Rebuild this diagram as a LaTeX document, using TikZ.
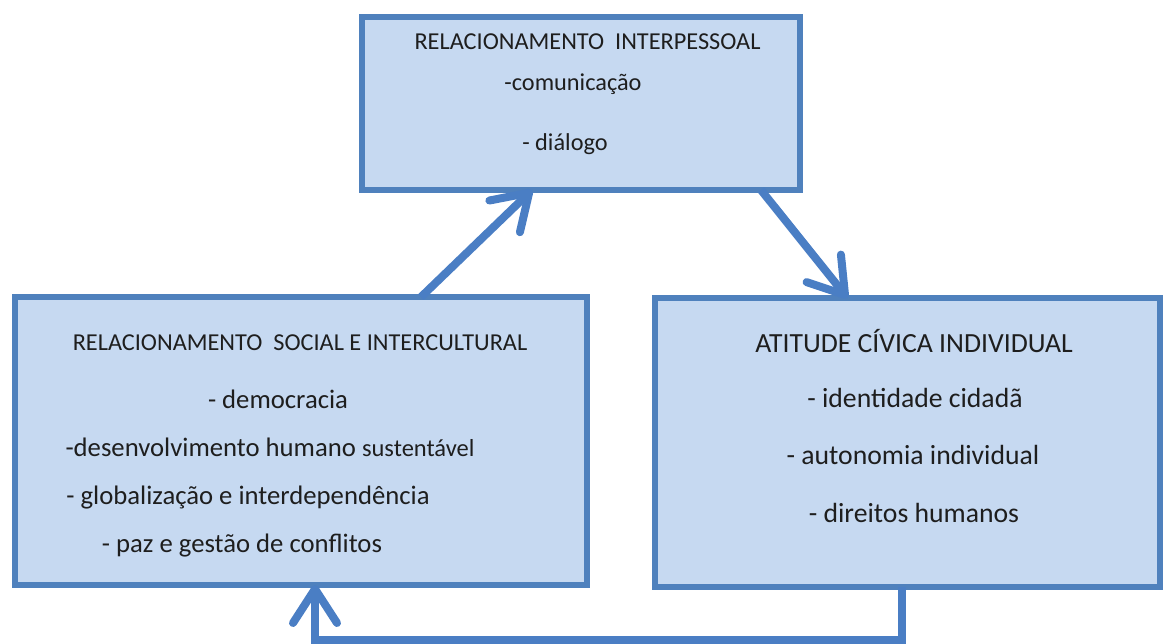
\documentclass[tikz,border=0pt]{standalone}
\usepackage{fontspec}
\setmainfont{Carlito}
\usetikzlibrary{arrows.meta, calc}
\definecolor{boxfill}{RGB}{198,217,241}
\definecolor{boxline}{RGB}{79,129,189}
\definecolor{flowline}{RGB}{74,126,196}
\definecolor{ink}{RGB}{30,30,30}

\begin{document}
\begin{tikzpicture}[x=1pt, y=-1pt,
    panel/.style={draw=boxline, fill=boxfill, line width=6pt, inner sep=0pt, outer sep=0pt},
    flow/.style={draw=flowline, line width=8pt, -{Straight Barb[length=34pt,width=44pt,round]}},
    txt/.style={anchor=base, inner sep=0pt, text=ink},
    small/.style={txt, font=\fontsize{24.3}{29}\selectfont},
    mid/.style={txt, font=\fontsize{26.7}{32}\selectfont},
    large/.style={txt, font=\fontsize{27.7}{33}\selectfont}]
  \useasboundingbox (0,0) rectangle (1164,644);
  % ---- boxes ----
  \node[panel, minimum width=438pt, minimum height=173pt] (inter)  at (581,103.5) {};
  \node[panel, minimum width=572pt, minimum height=288pt] (social) at (301,441)   {};
  \node[panel, minimum width=505pt, minimum height=289pt] (civic)  at (907.5,442.5) {};
  % ---- top box: interpersonal ----
  \node[small] (inter-t) at (587.5,50) {RELACIONAMENTO\ \ INTERPESSOAL};
  \node[small] (inter-1) at (573,91)   {-comunicação};
  \node[small] (inter-2) at (565,151)  {- diálogo};
  % ---- left box: social and intercultural ----
  \node[small] (social-t) at (300,350) {RELACIONAMENTO\ \ SOCIAL E INTERCULTURAL};
  \node[mid] (social-1) at (278,408) {- democracia};
  \node[mid] (social-2) at (270,456) {-desenvolvimento humano {\fontsize{24.5}{30}\selectfont sustentável}};
  \node[mid] (social-3) at (248,504) {- globalização e interdependência};
  \node[mid] (social-4) at (242,552) {- paz e gestão de conflitos};
  % ---- right box: civic attitude ----
  \node[large] (civic-t) at (914,352) {ATITUDE CÍVICA INDIVIDUAL};
  \node[large] (civic-1) at (915,407) {- identidade cidadã};
  \node[large] (civic-2) at (913,464) {- autonomia individual};
  \node[large] (civic-3) at (914,522) {- direitos humanos};
  % ---- connectors ----
  \draw[flow] ([xshift=120pt]social.north) -- ([xshift=-49pt]inter.south);
  \draw[flow] ([xshift=180pt]inter.south) -- ([xshift=-60pt]civic.north);
  \draw[flow] ([xshift=-5.5pt]civic.south) -- ++(0,53) -| ([xshift=14pt]social.south);
\end{tikzpicture}
\end{document}
